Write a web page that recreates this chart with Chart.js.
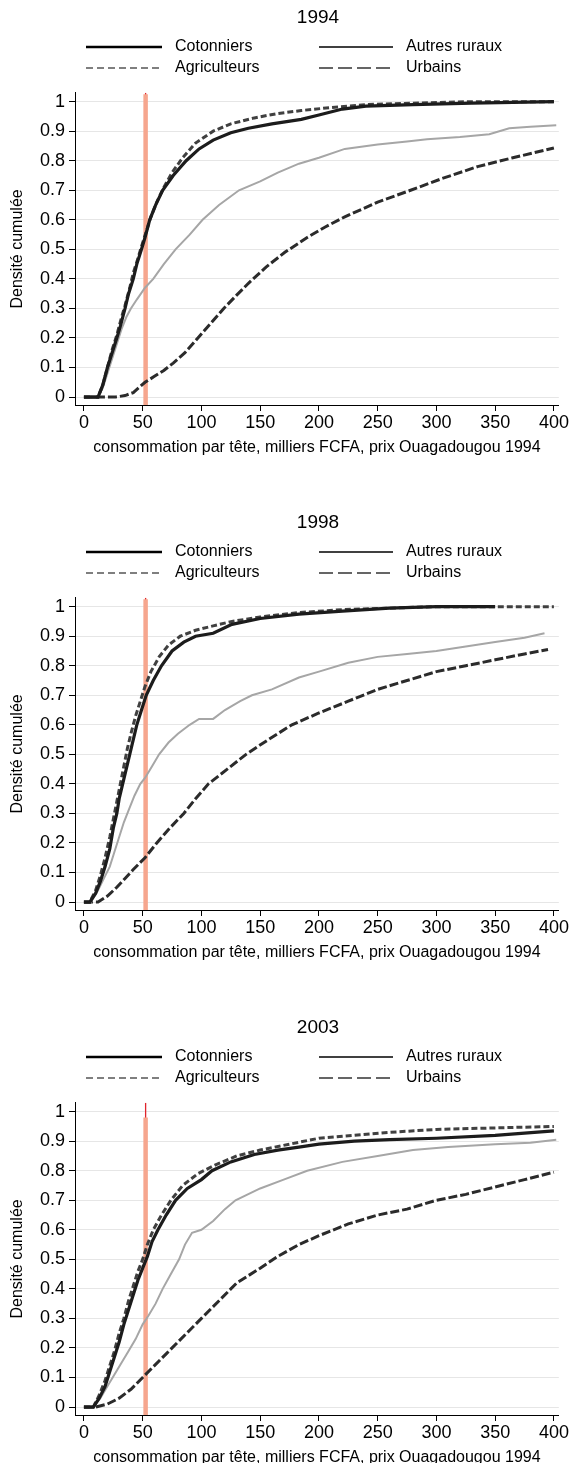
<!DOCTYPE html>
<html>
<head>
<meta charset="utf-8">
<script src="https://cdn.jsdelivr.net/npm/chart.js@4.4.0/dist/chart.umd.min.js"></script>
<style>
    html, body { margin: 0; padding: 0; background: #fff; overflow: hidden; }
    .panel { position: absolute; left: 0; width: 570px; height: 457px; }
</style>
</head>
<body>
<div class="panel" style="top:0px"><canvas id="c1994" width="570" height="457"></canvas></div>
<div class="panel" style="top:505px"><canvas id="c1998" width="570" height="457"></canvas></div>
<div class="panel" style="top:1010px"><canvas id="c2003" width="570" height="457"></canvas></div>
<script>
const years = ['1994', '1998', '2003'];
const seriesNames = ['Cotonniers', 'Agriculteurs', 'Autres ruraux', 'Urbains'];
const xTicks = [0, 50, 100, 150, 200, 250, 300, 350, 400];
const yTicks = [0, 0.1, 0.2, 0.3, 0.4, 0.5, 0.6, 0.7, 0.8, 0.9, 1];
const xTitle = 'consommation par tête, milliers FCFA, prix Ouagadougou 1994';
const yTitle = 'Densité cumulée';

// seuil de pauvreté (ligne verticale) et hauteur du trait clair par panneau
const seuil = 52.5;
const seuilHaut = [1.025, 1.025, 0.98];

// 1994
const cotonniers1994 = [[0,0],[12,0],[16,0.04],[20,0.1],[24,0.15],[28,0.2],[31,0.24],[35,0.3],[38,0.35],[42,0.4],[45,0.45],[49,0.5],[52,0.54],[56,0.6],[61,0.65],[67,0.7],[76,0.75],[87,0.8],[98,0.84],[110,0.87],[125,0.895],[140,0.91],[160,0.925],[185,0.94],[200,0.955],[220,0.975],[240,0.985],[280,0.99],[330,0.995],[400,1.0]];
const agriculteurs1994 = [[0,0],[12,0],[16,0.04],[20,0.1],[24,0.16],[28,0.21],[32,0.27],[35,0.31],[39,0.37],[42,0.42],[46,0.47],[49,0.51],[53,0.56],[57,0.61],[62,0.66],[68,0.71],[75,0.76],[84,0.81],[95,0.86],[110,0.9],[125,0.925],[145,0.945],[165,0.96],[185,0.97],[210,0.98],[240,0.99],[280,0.995],[330,1.0],[400,1.0]];
const autres1994 = [[0,0],[12,0],[16,0.03],[20,0.08],[24,0.13],[28,0.18],[32,0.23],[36,0.27],[40,0.3],[45,0.33],[52,0.37],[59,0.4],[68,0.45],[78,0.5],[90,0.55],[101,0.6],[115,0.65],[132,0.7],[150,0.73],[165,0.76],[183,0.79],[200,0.81],[222,0.84],[250,0.855],[275,0.865],[292,0.873],[320,0.88],[345,0.89],[362,0.91],[380,0.915],[402,0.92]];
const urbains1994 = [[0,0],[27,0],[35,0.005],[42,0.015],[52,0.05],[60,0.07],[68,0.09],[76,0.115],[86,0.15],[97,0.2],[108,0.25],[119,0.3],[130,0.345],[140,0.385],[155,0.44],[171,0.49],[190,0.54],[205,0.575],[222,0.61],[250,0.66],[278,0.7],[305,0.74],[335,0.78],[365,0.81],[400,0.843]];

// 1998
const cotonniers1998 = [[0,0],[5,0],[10,0.03],[14,0.07],[18,0.12],[22,0.18],[25,0.25],[28,0.3],[30,0.35],[33,0.4],[36,0.45],[39,0.5],[42,0.55],[45,0.6],[49,0.65],[53,0.7],[59,0.75],[66,0.8],[75,0.85],[85,0.88],[95,0.9],[110,0.91],[126,0.94],[150,0.96],[183,0.975],[220,0.985],[260,0.995],[300,1.0],[350,1.0]];
const agriculteurs1998 = [[0,0],[5,0],[10,0.04],[14,0.09],[18,0.15],[22,0.22],[25,0.28],[28,0.34],[31,0.4],[34,0.46],[37,0.52],[40,0.57],[44,0.63],[48,0.68],[52,0.73],[57,0.78],[64,0.83],[72,0.87],[82,0.9],[95,0.92],[110,0.935],[126,0.95],[150,0.965],[183,0.98],[220,0.99],[260,0.995],[300,1.0],[400,1.0]];
const autres1998 = [[0,0],[6,0],[12,0.04],[17,0.08],[22,0.12],[26,0.17],[30,0.22],[34,0.27],[38,0.31],[43,0.36],[48,0.4],[52,0.42],[58,0.46],[64,0.5],[72,0.54],[80,0.57],[90,0.6],[98,0.62],[110,0.62],[120,0.65],[133,0.68],[143,0.7],[160,0.72],[183,0.76],[200,0.78],[225,0.81],[250,0.83],[275,0.84],[300,0.85],[325,0.865],[350,0.88],[375,0.895],[392,0.91]];
const urbains1998 = [[0,0],[12,0],[20,0.02],[28,0.05],[35,0.08],[42,0.11],[52,0.15],[62,0.2],[73,0.25],[85,0.3],[95,0.35],[106,0.4],[122,0.45],[138,0.5],[157,0.55],[177,0.6],[200,0.64],[225,0.68],[250,0.72],[275,0.75],[300,0.78],[325,0.8],[350,0.82],[375,0.84],[395,0.855]];

// 2003
const cotonniers2003 = [[0,0],[8,0],[13,0.03],[18,0.07],[22,0.12],[26,0.17],[30,0.22],[34,0.28],[38,0.33],[42,0.38],[46,0.43],[50,0.47],[54,0.51],[58,0.56],[63,0.6],[70,0.65],[78,0.7],[88,0.74],[100,0.77],[109,0.8],[125,0.83],[145,0.855],[165,0.87],[183,0.88],[200,0.89],[230,0.9],[260,0.905],[300,0.91],[350,0.92],[400,0.935]];
const agriculteurs2003 = [[0,0],[8,0],[13,0.04],[18,0.09],[22,0.14],[26,0.19],[30,0.25],[34,0.3],[38,0.36],[42,0.41],[46,0.46],[50,0.5],[54,0.55],[59,0.6],[66,0.65],[74,0.7],[84,0.75],[97,0.79],[112,0.82],[130,0.85],[150,0.87],[175,0.89],[200,0.91],[230,0.92],[260,0.93],[300,0.94],[350,0.945],[400,0.95]];
const autres2003 = [[0,0],[8,0],[14,0.03],[20,0.07],[26,0.11],[32,0.15],[38,0.19],[44,0.23],[50,0.28],[55,0.31],[61,0.35],[67,0.4],[74,0.45],[81,0.5],[86,0.55],[92,0.59],[100,0.6],[110,0.63],[120,0.67],[129,0.7],[150,0.74],[170,0.77],[190,0.8],[220,0.83],[250,0.85],[280,0.87],[310,0.88],[350,0.89],[380,0.895],[402,0.905]];
const urbains2003 = [[0,0],[10,0],[20,0.01],[30,0.03],[40,0.06],[50,0.1],[60,0.14],[70,0.18],[80,0.22],[90,0.26],[100,0.3],[115,0.36],[130,0.42],[150,0.47],[165,0.51],[183,0.55],[200,0.58],[225,0.62],[250,0.65],[275,0.67],[300,0.7],[325,0.72],[350,0.745],[375,0.77],[400,0.795]];

const panels = [
    [cotonniers1994, agriculteurs1994, autres1994, urbains1994],
    [cotonniers1998, agriculteurs1998, autres1998, urbains1998],
    [cotonniers2003, agriculteurs2003, autres2003, urbains2003]
];

const FONT = '"Liberation Sans", Arial, sans-serif';
Chart.defaults.font.family = FONT;
Chart.defaults.color = '#000';

// style des courbes dans le graphique
const lineStyles = [
    { color: '#1c1c1c', width: 3.2, dash: [], order: 1 },
    { color: '#404040', width: 3, dash: [6, 3], order: 2 },
    { color: '#a6a6a6', width: 2, dash: [], order: 3 },
    { color: '#2b2b2b', width: 3, dash: [9, 3], order: 4 }
];

// style des échantillons de la légende
const legendStyles = [
    { color: '#000', width: 2.5, dash: [] },
    { color: '#555', width: 1.3, dash: [7, 4] },
    { color: '#000', width: 1.3, dash: [] },
    { color: '#333', width: 1.3, dash: [14, 5] }
];
const legendSlots = [
    { x: 86, y: 47, len: 76 },
    { x: 86, y: 68, len: 76 },
    { x: 319, y: 47, len: 74 },
    { x: 319, y: 68, len: 74 }
];

function toPoints(arr) {
    return arr.map(p => ({ x: p[0], y: p[1] }));
}

const panelLegend = {
    id: 'panelLegend',
    afterDraw(chart, args, opts) {
        const ctx = chart.ctx;
        ctx.save();
        ctx.fillStyle = '#000';
        ctx.textBaseline = 'middle';

        ctx.font = '19px ' + FONT;
        ctx.textAlign = 'center';
        ctx.fillText(opts.title, 318, 18);

        ctx.font = '16px ' + FONT;
        ctx.textAlign = 'left';
        seriesNames.forEach((name, i) => {
            const slot = legendSlots[i];
            const st = legendStyles[i];
            ctx.beginPath();
            ctx.strokeStyle = st.color;
            ctx.lineWidth = st.width;
            ctx.setLineDash(st.dash);
            ctx.moveTo(slot.x, slot.y);
            ctx.lineTo(slot.x + slot.len, slot.y);
            ctx.stroke();
            ctx.setLineDash([]);
            ctx.fillText(name, slot.x + slot.len + 13, slot.y);
        });
        ctx.restore();
    }
};

function makeChart(idx) {
    const year = years[idx];
    const datasets = seriesNames.map((name, i) => ({
        label: name,
        data: toPoints(panels[idx][i]),
        borderColor: lineStyles[i].color,
        borderWidth: lineStyles[i].width,
        borderDash: lineStyles[i].dash,
        order: lineStyles[i].order,
        pointRadius: 0,
        tension: 0,
        fill: false
    }));

    datasets.push({
        label: 'seuil',
        data: [{ x: seuil, y: -0.03 }, { x: seuil, y: seuilHaut[idx] }],
        borderColor: '#f6a68e',
        borderWidth: 4.5,
        pointRadius: 0,
        order: 10
    });
    datasets.push({
        label: 'seuil rouge',
        data: [{ x: seuil, y: 0.97 }, { x: seuil, y: 1.03 }],
        borderColor: '#e0232b',
        borderWidth: 1.3,
        pointRadius: 0,
        order: 11
    });

    new Chart(document.getElementById('c' + year), {
        type: 'line',
        data: { datasets: datasets },
        options: {
            responsive: false,
            animation: false,
            layout: { padding: { top: 92.8, right: 8, left: 0, bottom: 0 } },
            plugins: {
                legend: { display: false },
                tooltip: { enabled: false },
                panelLegend: { title: year }
            },
            scales: {
                x: {
                    type: 'linear',
                    min: -7.6,
                    max: 404.2,
                    afterBuildTicks: s => { s.ticks = xTicks.map(v => ({ value: v })); },
                    afterFit: s => { s.height = 52; },
                    grid: { drawOnChartArea: false, tickLength: 6, tickColor: '#000' },
                    border: { color: '#000', width: 1 },
                    ticks: { color: '#000', font: { size: 18 }, padding: 1, maxRotation: 0, autoSkip: false },
                    title: { display: true, text: xTitle, color: '#000', font: { size: 16 }, padding: 0 }
                },
                y: {
                    type: 'linear',
                    min: -0.027,
                    max: 1.03,
                    afterBuildTicks: s => { s.ticks = yTicks.map(v => ({ value: v })); },
                    afterFit: s => { s.width = 75; },
                    grid: { color: '#e6e6e6', tickLength: 6, tickColor: '#000' },
                    border: { color: '#000', width: 1 },
                    ticks: { color: '#000', font: { size: 18 }, padding: 4, autoSkip: false, callback: v => String(v) },
                    title: { display: true, text: yTitle, color: '#000', font: { size: 16 }, padding: { top: 8, bottom: 0 } }
                }
            }
        },
        plugins: [panelLegend]
    });
}

years.forEach((y, i) => makeChart(i));
</script>
</body>
</html>
